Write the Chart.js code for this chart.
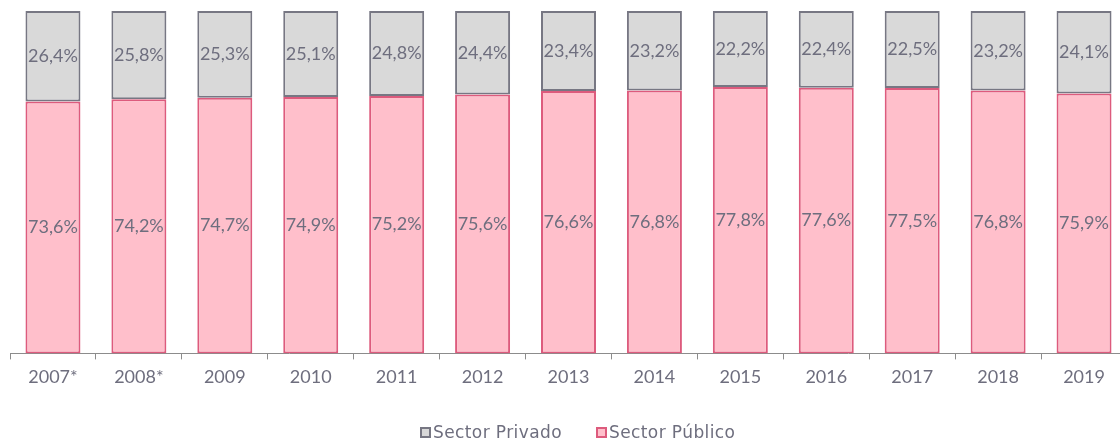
<!DOCTYPE html>
<html>
<head>
<meta charset="utf-8">
<script src="https://cdn.jsdelivr.net/npm/chart.js@4.4.1/dist/chart.umd.min.js"></script>
<style>
  html, body { margin: 0; padding: 0; background: #fff; overflow: hidden; }
  #wrap { width: 1130px; height: 442px; position: relative; }
  #legend {
    position: absolute; left: 420px; top: 422px;
    display: flex; align-items: center; gap: 34px;
    font: 17px "DejaVu Sans", sans-serif; letter-spacing: 0.4px;
    color: #6e6e7e; line-height: 20px; white-space: nowrap;
  }
  #legend .item { display: flex; align-items: center; gap: 2px; }
  #legend .box { width: 11px; height: 11px; box-sizing: border-box; border: 2px solid; margin-top: 1px; }
</style>
</head>
<body>
<div id="wrap">
  <canvas id="chart"></canvas>
  <div id="legend"></div>
</div>
<script>
const years = ['2007*', '2008*', '2009', '2010', '2011', '2012', '2013', '2014', '2015', '2016', '2017', '2018', '2019'];
const privado = [26.4, 25.8, 25.3, 25.1, 24.8, 24.4, 23.4, 23.2, 22.2, 22.4, 22.5, 23.2, 24.1];
const publico = [73.6, 74.2, 74.7, 74.9, 75.2, 75.6, 76.6, 76.8, 77.8, 77.6, 77.5, 76.8, 75.9];

const textColor = '#6e6e7e';
const fontFamily = 'Lato, "Noto Sans", sans-serif';

// simple inline value labels, centred in each segment
const segmentLabels = {
  id: 'segmentLabels',
  afterDatasetsDraw(chart) {
    const ctx = chart.ctx;
    ctx.save();
    ctx.fillStyle = textColor;
    ctx.font = '18px ' + fontFamily;
    ctx.textAlign = 'center';
    ctx.textBaseline = 'middle';
    chart.data.datasets.forEach((ds, i) => {
      chart.getDatasetMeta(i).data.forEach((bar, j) => {
        const v = ds.data[j];
        const y = (bar.y + bar.base) / 2;
        ctx.fillText(v.toFixed(1).replace('.', ',') + '%', bar.x, y);
      });
    });
    ctx.restore();
  }
};

const chart = new Chart(document.getElementById('chart'), {
  type: 'bar',
  data: {
    labels: years,
    datasets: [
      {
        label: 'Sector Público',
        data: publico,
        backgroundColor: '#ffbfcb',
        borderColor: '#dd5b7d',
        borderWidth: 2,
        borderSkipped: false
      },
      {
        label: 'Sector Privado',
        data: privado,
        backgroundColor: '#d9d9d9',
        borderColor: '#777783',
        borderWidth: 2,
        borderSkipped: false
      }
    ]
  },
  options: {
    responsive: true,
    maintainAspectRatio: false,
    animation: false,
    datasets: {
      bar: { categoryPercentage: 1, barPercentage: 0.64 }
    },
    layout: { padding: { left: 10, right: 3, top: 11, bottom: 47 } },
    plugins: {
      legend: { display: false },
      tooltip: { enabled: false }
    },
    scales: {
      x: {
        stacked: true,
        grid: {
          offset: true,
          drawOnChartArea: false,
          drawTicks: true,
          tickLength: 6,
          color: '#8c8c8c'
        },
        border: { color: '#8c8c8c', width: 1 },
        ticks: {
          color: textColor,
          font: { family: fontFamily, size: 18 },
          padding: 7,
          maxRotation: 0,
          autoSkip: false
        }
      },
      y: {
        stacked: true,
        display: false,
        min: 0,
        max: 100
      }
    }
  },
  plugins: [segmentLabels]
});

// legend in the order of the reference: Privado then Público
const legendEl = document.getElementById('legend');
chart.data.datasets.slice().reverse().forEach(ds => {
  const item = document.createElement('div');
  item.className = 'item';
  const box = document.createElement('span');
  box.className = 'box';
  box.style.background = ds.backgroundColor;
  box.style.borderColor = ds.borderColor;
  const txt = document.createElement('span');
  txt.textContent = ds.label;
  item.appendChild(box);
  item.appendChild(txt);
  legendEl.appendChild(item);
});
</script>
</body>
</html>
